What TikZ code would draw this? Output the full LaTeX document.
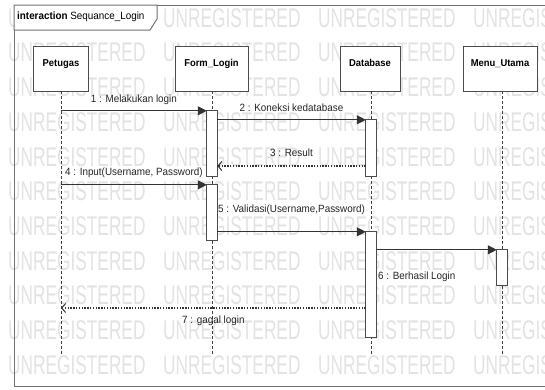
\documentclass[tikz,border=0pt]{standalone}
\usepackage{fontspec}
\setmainfont{Liberation Sans}[FakeStretch=0.94]
\newfontfamily\wmfont{Liberation Sans}[FakeStretch=0.64]
\usetikzlibrary{arrows.meta}
\tikzset{
	frame/.style={draw=black!55, line width=1pt},
	head/.style={draw=black!70, fill=white, line width=0.9pt, inner sep=0pt, text height=8pt, text depth=13pt, font=\bfseries},
	actbar/.style={inner sep=0pt, minimum width=10pt},
	barbox/.style={draw=black!70, fill=white, line width=0.9pt},
	life/.style={draw=black!75, line width=0.7pt, dash pattern=on 3pt off 2pt},
	msg/.style={draw=black!80, line width=1.1pt, -{Triangle[length=9pt,width=9pt]}},
	ret/.style={draw=black!80, line width=1.1pt, dash pattern=on 1.5pt off 1.3pt, -{Straight Barb[length=4pt,width=9pt,line width=1pt]}},
	lbl/.style={inner sep=1pt, text=black!85},
	wmark/.style={inner sep=0pt, anchor=west, text=black!11, font=\wmfont\fontsize{27}{27}\selectfont}
}

\begin{document}
\begin{tikzpicture}[x=1pt, y=-1pt, font=\fontsize{10.5}{12}\selectfont]
		%%%%% START %%%%%
		\useasboundingbox (0,0) rectangle (545,389);
		\clip (0,0) rectangle (545,389);
		\fill[white] (0,0) rectangle (545,389);
		
		% watermark
		\foreach \r in {0,...,10}
			\foreach \c in {0,...,3}
				\node[wmark] (wm-\r-\c) at (8+155*\c, 18+34.7*\r) {UNREGISTERED};
		
		% frame and tag
		\draw[frame] (14,5) rectangle (600,386);
		\draw[frame, fill=white] (14,5) -- (157,5) -- (157,19) -- (150,30) -- (14,30) -- cycle;
		\node[anchor=west, inner sep=0pt] (tag) at (17,17) {\textbf{interaction} Sequance\_Login};
		
		% heads
		\node[head, minimum width=55pt, minimum height=45pt] (petugas) at (61,68.5) {Petugas};
		\node[head, minimum width=73pt, minimum height=45pt] (formlogin) at (211.5,68.5) {Form\_Login};
		\node[head, minimum width=60pt, minimum height=45pt] (database) at (370,68.5) {Database};
		\node[head, minimum width=74pt, minimum height=45pt] (menuutama) at (500,68.5) {Menu\_Utama};
		
		\coordinate (lifeend) at (0,356);
		\coordinate (r3) at (0,166);
		\coordinate (r7) at (0,308);
		
		% activations
		\node[actbar, minimum height=65pt] (fl1) at (212,143.5) {};
		\node[actbar, minimum height=56pt] (db1) at (371,148) {};
		\node[actbar, minimum height=55pt] (fl2) at (212,212.5) {};
		\node[actbar, minimum height=105pt] (db2) at (371,284.5) {};
		\node[actbar, minimum height=35pt] (mu1) at (502,267.5) {};
		
		% lifelines
		\draw[life] (petugas.south) -- (petugas |- lifeend);
		\draw[life] (fl1 |- formlogin.south) -- (fl1 |- lifeend);
		\draw[life] (db1 |- database.south) -- (db1 |- lifeend);
		\draw[life] (mu1 |- menuutama.south) -- (mu1 |- lifeend);
		
		\foreach \b in {fl1,db1,fl2,db2,mu1}
			\draw[barbox] (\b.north west) rectangle (\b.south east);
		
		% messages
		\draw[msg] (petugas |- fl1.north) -- (fl1.north west) node[lbl, midway, yshift=11pt] (l1) {1 : Melakukan login};
		\draw[msg] (fl1.east |- db1.north) -- (db1.north west) node[lbl, midway, yshift=12pt] (l2) {2 : Koneksi kedatabase};
		\draw[ret] (db1.west |- r3) -- (fl1.east |- r3) node[lbl, midway, yshift=13pt] (l3) {3 : Result};
		\draw[msg] (petugas |- fl2.north) -- (fl2.north west) node[lbl, midway, yshift=12pt] (l4) {4 : Input(Username, Password)};
		\draw[msg] (fl2.east |- db2.north) -- (db2.north west) node[lbl, midway, yshift=22pt] (l5) {5 : Validasi(Username,Password)};
		\draw[msg] (db2.east |- mu1.north) -- (mu1.north west);
		\node[lbl, anchor=west] (l6) at (377,277) {6 : Berhasil Login};
		\draw[ret] (db2.west |- r7) -- (petugas |- r7) node[lbl, midway, yshift=-13pt] (l7) {7 : gagal login};
		
		%%%%% END %%%%%
	\end{tikzpicture}
\end{document}
